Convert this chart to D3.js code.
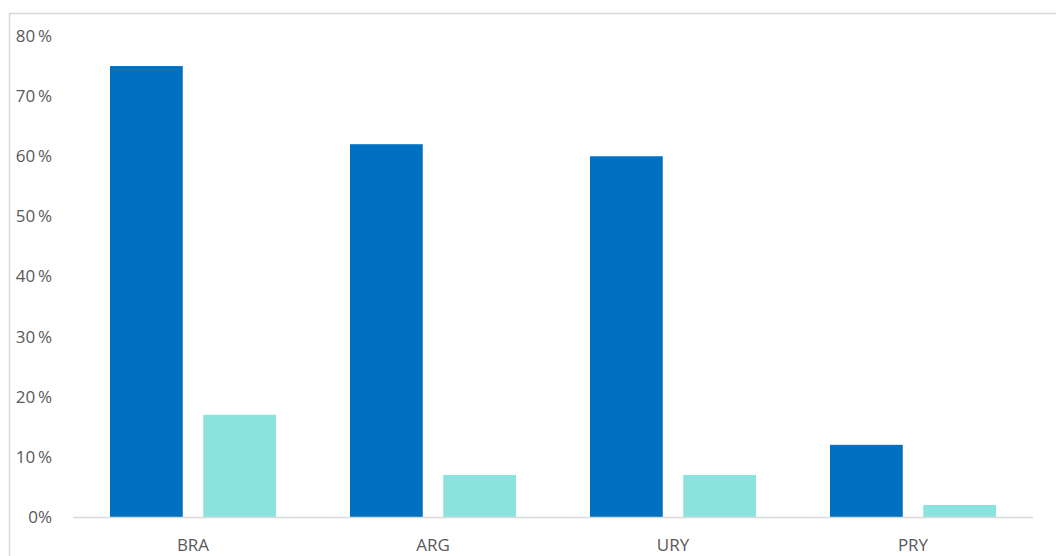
<!DOCTYPE html>
<html>
<head>
<meta charset="utf-8">
<script src="https://cdn.jsdelivr.net/npm/d3@7"></script>
<style>
  body { margin: 0; background: #fff; }
  svg text { font-family: "Open Sans", "Noto Sans", sans-serif; fill: #595959; }
</style>
</head>
<body>
<div id="chart"></div>
<script>
// data
var countries = ["BRA", "ARG", "URY", "PRY"];
var seriesA = [0.75, 0.62, 0.60, 0.12];
var seriesB = [0.17, 0.07, 0.07, 0.02];
var yTicks = [0, 0.1, 0.2, 0.3, 0.4, 0.5, 0.6, 0.7, 0.8];

var width = 1056, height = 556;

var svg = d3.select("#chart").append("svg")
    .attr("width", width)
    .attr("height", height);

// outer frame (runs off the right and bottom edges)
svg.append("rect")
    .attr("x", 9.5).attr("y", 13.5)
    .attr("width", 1100).attr("height", 600)
    .attr("fill", "none")
    .attr("stroke", "#d9d9d9")
    .attr("stroke-width", 1.5);

var x = d3.scaleBand()
    .domain(countries)
    .range([73, 1033]);

var inner = d3.scaleBand()
    .domain(["a", "b"])
    .range([37, x.bandwidth() - 37])
    .paddingInner(0.22);

var y = d3.scaleLinear()
    .domain([0, 0.8])
    .range([517, 36]);

// y labels
svg.selectAll(".ylab")
    .data(yTicks).enter()
    .append("text")
    .attr("class", "ylab")
    .attr("x", 52)
    .attr("y", function(d) { return y(d); })
    .attr("dy", "0.35em")
    .attr("text-anchor", "end")
    .style("font-size", "17px")
    .text(function(d) { return d === 0 ? "0%" : Math.round(d * 100) + "\u2009%"; });

var rows = countries.map(function(c, i) {
    return { c: c, a: seriesA[i], b: seriesB[i] };
});

var g = svg.selectAll(".grp")
    .data(rows).enter()
    .append("g")
    .attr("transform", function(d) { return "translate(" + x(d.c) + ",0)"; });

g.append("rect")
    .attr("x", inner("a"))
    .attr("width", inner.bandwidth())
    .attr("y", function(d) { return y(d.a); })
    .attr("height", function(d) { return y(0) - y(d.a); })
    .attr("fill", "#0070C0");

g.append("rect")
    .attr("x", inner("b"))
    .attr("width", inner.bandwidth())
    .attr("y", function(d) { return y(d.b); })
    .attr("height", function(d) { return y(0) - y(d.b); })
    .attr("fill", "#8BE3E0");

// baseline
svg.append("line")
    .attr("x1", 73).attr("x2", 1033)
    .attr("y1", y(0) + 0.5).attr("y2", y(0) + 0.5)
    .attr("stroke", "#d9d9d9")
    .attr("stroke-width", 1.5);

// x labels
svg.selectAll(".xlab")
    .data(countries).enter()
    .append("text")
    .attr("class", "xlab")
    .attr("x", function(d) { return x(d) + x.bandwidth() / 2; })
    .attr("y", 545)
    .attr("dy", "0.35em")
    .attr("text-anchor", "middle")
    .style("font-size", "17px")
    .text(function(d) { return d; });
</script>
</body>
</html>
